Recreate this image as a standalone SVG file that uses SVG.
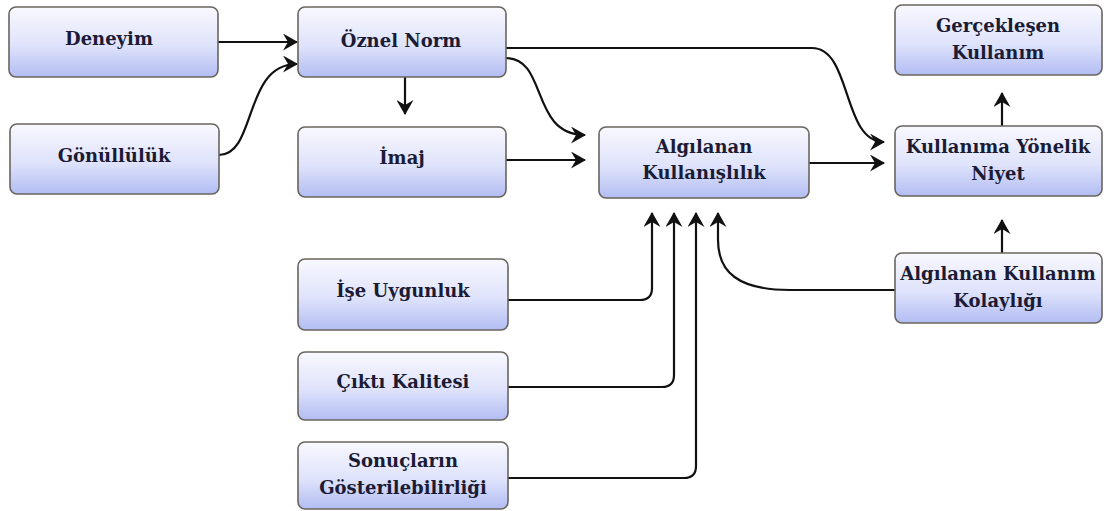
<svg xmlns="http://www.w3.org/2000/svg" width="1105" height="511" viewBox="0 0 1105 511">
  <defs>
    <linearGradient id="boxFill" x1="0" y1="0" x2="0" y2="1">
      <stop offset="0" stop-color="#f8f8fe"/>
      <stop offset="0.55" stop-color="#dfe3fb"/>
      <stop offset="1" stop-color="#b2bdf3"/>
    </linearGradient>
    <marker id="arrow" viewBox="0 0 15 17" refX="14" refY="8.5" markerWidth="15" markerHeight="17" markerUnits="userSpaceOnUse" orient="auto">
      <path d="M0,0 L15,8.5 L0,17 L5,8.5 Z" fill="#111"/>
    </marker>
    <style>
      .box { fill: url(#boxFill); stroke: #6a645e; stroke-width: 1.6; }
      .label { font-family: "DejaVu Serif", "Liberation Serif", serif; font-weight: 700; font-size: 18px; fill: #1b1b35; text-anchor: middle; }
      .conn { fill: none; stroke: #111; stroke-width: 2.2; marker-end: url(#arrow); }
    </style>
  </defs>

  <rect width="1105" height="511" fill="#ffffff"/>

  <!-- connectors -->
  <g id="connectors">
    <path class="conn" d="M218,42 H297"/>
    <path class="conn" d="M219,155 C257,155 243,64 297,64"/>
    <path class="conn" d="M405,77 V114"/>
    <path class="conn" d="M506,58 C548,58 530,135 585,135"/>
    <path class="conn" d="M506,160 H585"/>
    <path class="conn" d="M506,48 H812 C852,48 842,142 884,142"/>
    <path class="conn" d="M809,163 H884"/>
    <path class="conn" d="M1002,126 V93"/>
    <path class="conn" d="M1002,253 V220"/>
    <path class="conn" d="M508,300 H640 Q652,300 652,288 V213"/>
    <path class="conn" d="M508,387 H662 Q674,387 674,375 V213"/>
    <path class="conn" d="M508,478 H684 Q696,478 696,466 V213"/>
    <path class="conn" d="M895,290 H790 C738,290 718,272 718,240 V213"/>
  </g>

  <!-- nodes -->
  <g id="deneyim">
    <rect class="box" x="9" y="7" width="209" height="70" rx="7"/>
    <text class="label" x="109" y="45">Deneyim</text>
  </g>
  <g id="gonulluluk">
    <rect class="box" x="10" y="124" width="209" height="70" rx="7"/>
    <text class="label" x="114" y="162">Gönüllülük</text>
  </g>
  <g id="oznel-norm">
    <rect class="box" x="298" y="7" width="208" height="70" rx="7"/>
    <text class="label" x="401" y="47">Öznel Norm</text>
  </g>
  <g id="imaj">
    <rect class="box" x="298" y="127" width="208" height="70" rx="7"/>
    <text class="label" x="402" y="164">İmaj</text>
  </g>
  <g id="algilanan-kullanislilik">
    <rect class="box" x="599" y="127" width="210" height="71" rx="7"/>
    <text class="label" x="704" y="153">Algılanan</text>
    <text class="label" x="704" y="179">Kullanışlılık</text>
  </g>
  <g id="gerceklesen-kullanim">
    <rect class="box" x="895" y="5" width="207" height="70" rx="7"/>
    <text class="label" x="998" y="32">Gerçekleşen</text>
    <text class="label" x="998" y="59">Kullanım</text>
  </g>
  <g id="kullanima-yonelik-niyet">
    <rect class="box" x="895" y="126" width="207" height="70" rx="7"/>
    <text class="label" x="998" y="153">Kullanıma Yönelik</text>
    <text class="label" x="998" y="180">Niyet</text>
  </g>
  <g id="algilanan-kullanim-kolayligi">
    <rect class="box" x="895" y="253" width="207" height="70" rx="7"/>
    <text class="label" x="998" y="280">Algılanan Kullanım</text>
    <text class="label" x="998" y="307">Kolaylığı</text>
  </g>
  <g id="ise-uygunluk">
    <rect class="box" x="298" y="259" width="210" height="71" rx="7"/>
    <text class="label" x="403" y="297">İşe Uygunluk</text>
  </g>
  <g id="cikti-kalitesi">
    <rect class="box" x="298" y="352" width="210" height="68" rx="7"/>
    <text class="label" x="403" y="388">Çıktı Kalitesi</text>
  </g>
  <g id="sonuclarin-gosterilebilirligi">
    <rect class="box" x="298" y="442" width="210" height="67" rx="7"/>
    <text class="label" x="403" y="467">Sonuçların</text>
    <text class="label" x="403" y="494">Gösterilebilirliği</text>
  </g>
</svg>
